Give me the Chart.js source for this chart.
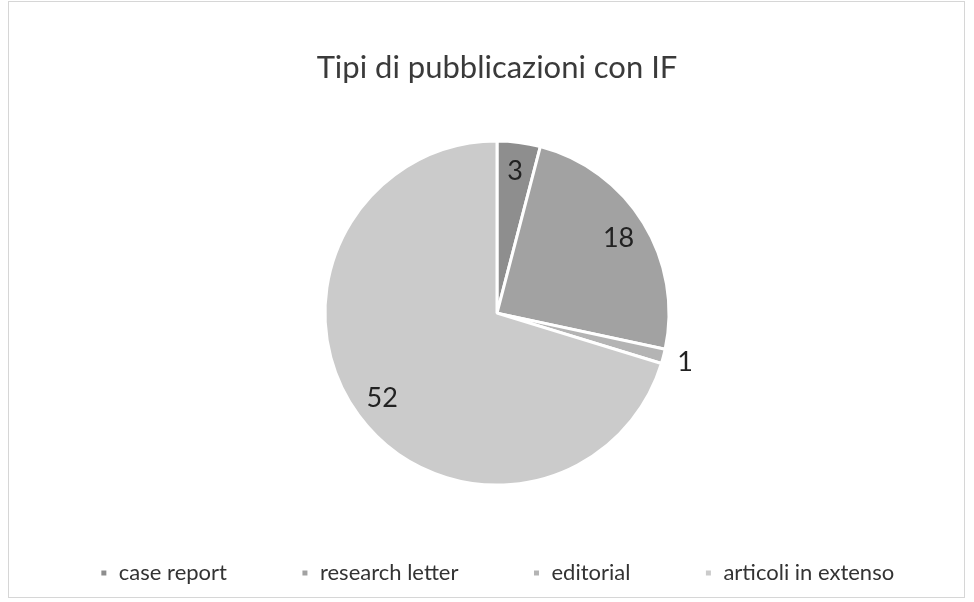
<!DOCTYPE html>
<html>
<head>
<meta charset="utf-8">
<script src="https://cdn.jsdelivr.net/npm/chart.js@4"></script>
<style>
  html, body { margin: 0; padding: 0; background: #ffffff; }
  #wrap { width: 974px; height: 602px; }
</style>
</head>
<body>
<div id="wrap"><canvas id="chart" width="974" height="602"></canvas></div>
<script>
// data
const categories = ["case report", "research letter", "editorial", "articoli in extenso"];
const counts = [3, 18, 1, 52];
const sliceColors = ["#8e8e8e", "#a2a2a2", "#b4b4b4", "#cbcbcb"];

// draws the number on each slice, small slices get it outside
const sliceLabels = {
    id: "sliceLabels",
    afterDatasetsDraw(chart) {
        const ctx = chart.ctx;
        const meta = chart.getDatasetMeta(0);
        const total = counts.reduce((a, b) => a + b, 0);
        ctx.save();
        ctx.font = "27px Lato";
        ctx.fillStyle = "#222222";
        ctx.textAlign = "center";
        ctx.textBaseline = "middle";
        meta.data.forEach((arc, i) => {
            const p = arc.getProps(["x", "y", "startAngle", "endAngle", "outerRadius"], true);
            const mid = (p.startAngle + p.endAngle) / 2;
            const f = counts[i] / total < 0.02 ? 1.13 : 0.83;
            const x = p.x + Math.cos(mid) * p.outerRadius * f;
            const y = p.y + Math.sin(mid) * p.outerRadius * f;
            ctx.fillText(String(counts[i]), x, y);
        });
        ctx.restore();
    }
};

// faint frame round the chart, like the original
const frame = {
    id: "frame",
    beforeDraw(chart) {
        const ctx = chart.ctx;
        ctx.save();
        ctx.fillStyle = "#ffffff";
        ctx.fillRect(0, 0, chart.width, chart.height);
        ctx.strokeStyle = "#d6d6d6";
        ctx.lineWidth = 1;
        ctx.strokeRect(8.5, 1.5, chart.width - 18, chart.height - 6);
        ctx.restore();
    }
};

// legend padding is wide for the spacing between items, so fix its height
const legendHeight = {
    id: "legendHeight",
    beforeInit(chart) {
        const fit = chart.legend.fit;
        chart.legend.fit = function () {
            fit.bind(chart.legend)();
            this.height = 100;
        };
    }
};

new Chart(document.getElementById("chart"), {
    type: "pie",
    data: {
        labels: categories,
        datasets: [{
            data: counts,
            backgroundColor: sliceColors,
            borderColor: "#ffffff",
            borderWidth: 3
        }]
    },
    options: {
        responsive: false,
        animation: false,
        radius: 172,
        layout: { padding: { top: 0, bottom: 14, left: 20, right: 0 } },
        plugins: {
            title: {
                display: true,
                text: "Tipi di pubblicazioni con IF",
                color: "#3a3a3a",
                font: { family: "Lato", size: 31, weight: "normal" },
                padding: { top: 49, bottom: 52 }
            },
            legend: {
                position: "bottom",
                labels: {
                    color: "#333333",
                    font: { family: "Lato", size: 22 },
                    boxWidth: 8,
                    boxHeight: 8,
                    padding: 74
                }
            },
            tooltip: { enabled: false }
        }
    },
    plugins: [frame, legendHeight, sliceLabels]
});
</script>
</body>
</html>
